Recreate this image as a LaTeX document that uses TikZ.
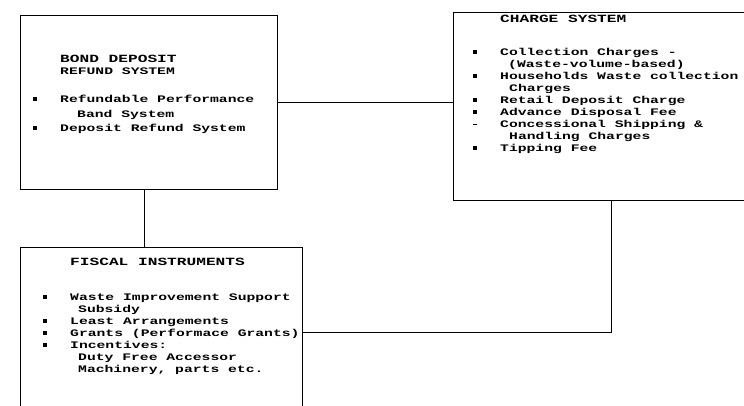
\documentclass[tikz,border=0pt]{standalone}
\usepackage{fontspec}
\usepackage{tikz}
\usetikzlibrary{calc}
\newfontfamily\boxfont{Liberation Mono}[FakeStretch=1.47]

\newcommand{\bul}{\makebox[29pt][l]{\hspace*{2pt}\rule[1.8pt]{3.8pt}{3.4pt}}}
\newcommand{\dsh}{\makebox[29pt][l]{\hspace*{2pt}\rule[2.6pt]{4pt}{1.4pt}}}
\newcommand{\ind}{\hspace*{29pt}}

\tikzset{
    boxframe/.style={draw,thick,rectangle,inner sep=0pt,anchor=north west},
    boxtext/.style={anchor=north west,inner sep=0pt,align=left,font=\boxfont\bfseries}
}

\begin{document}
\begin{tikzpicture}[x=1pt,y=-1pt]
        \useasboundingbox (0,0) rectangle (744,405);

        \node[boxframe,minimum width=257pt,minimum height=174pt] (bondbox) at (20,15){};
        \node[boxframe,minimum width=310pt,minimum height=188pt] (chargebox) at (453,12){};
        \node[boxframe,minimum width=282pt,minimum height=185pt] (fiscalbox) at (20,247){};

        \node[boxtext] (bondtext) at (31,55){\fontsize{11}{12}\selectfont
            \ind BOND DEPOSIT\\
            \ind REFUND SYSTEM\\[16pt]
            \bul Refundable Performance\\[3pt]
            \ind\hspace*{17pt}Band System\\[2pt]
            \bul Deposit Refund System};

        \node[boxtext] (chargetext) at (471,15){\fontsize{11}{12}\selectfont
            \ind CHARGE SYSTEM\\[21pt]
            \bul Collection Charges -\\
            \ind\hspace*{8pt}(Waste-volume-based)\\
            \bul Households Waste collection\\
            \ind\hspace*{9pt}Charges\\
            \bul Retail Deposit Charge\\
            \bul Advance Disposal Fee\\
            \dsh Concessional Shipping \&\\
            \ind\hspace*{9pt}Handling Charges\\
            \bul Tipping Fee};

        \node[boxtext] (fiscaltext) at (41,258){\fontsize{11}{10.8}\selectfont
            \ind FISCAL INSTRUMENTS\\[23pt]
            \bul Waste Improvement Support\\
            \ind\hspace*{8pt}Subsidy\\
            \bul Least Arrangements\\
            \bul Grants (Performace Grants)\\
            \bul Incentives:\\
            \ind\hspace*{8pt}Duty Free Accessor\\
            \ind\hspace*{8pt}Machinery, parts etc.};

        % links between the boxes
        \coordinate (turn) at (611,332);
        \draw[semithick] (bondbox.east) -- (bondbox.east -| chargebox.west);
        \draw[semithick] ([xshift=-5pt]bondbox.south) -- ([xshift=-5pt]bondbox.south |- fiscalbox.north);
        \draw[semithick] (chargebox.south -| turn) -- (turn) -- (turn -| fiscalbox.east);
    \end{tikzpicture}
\end{document}
